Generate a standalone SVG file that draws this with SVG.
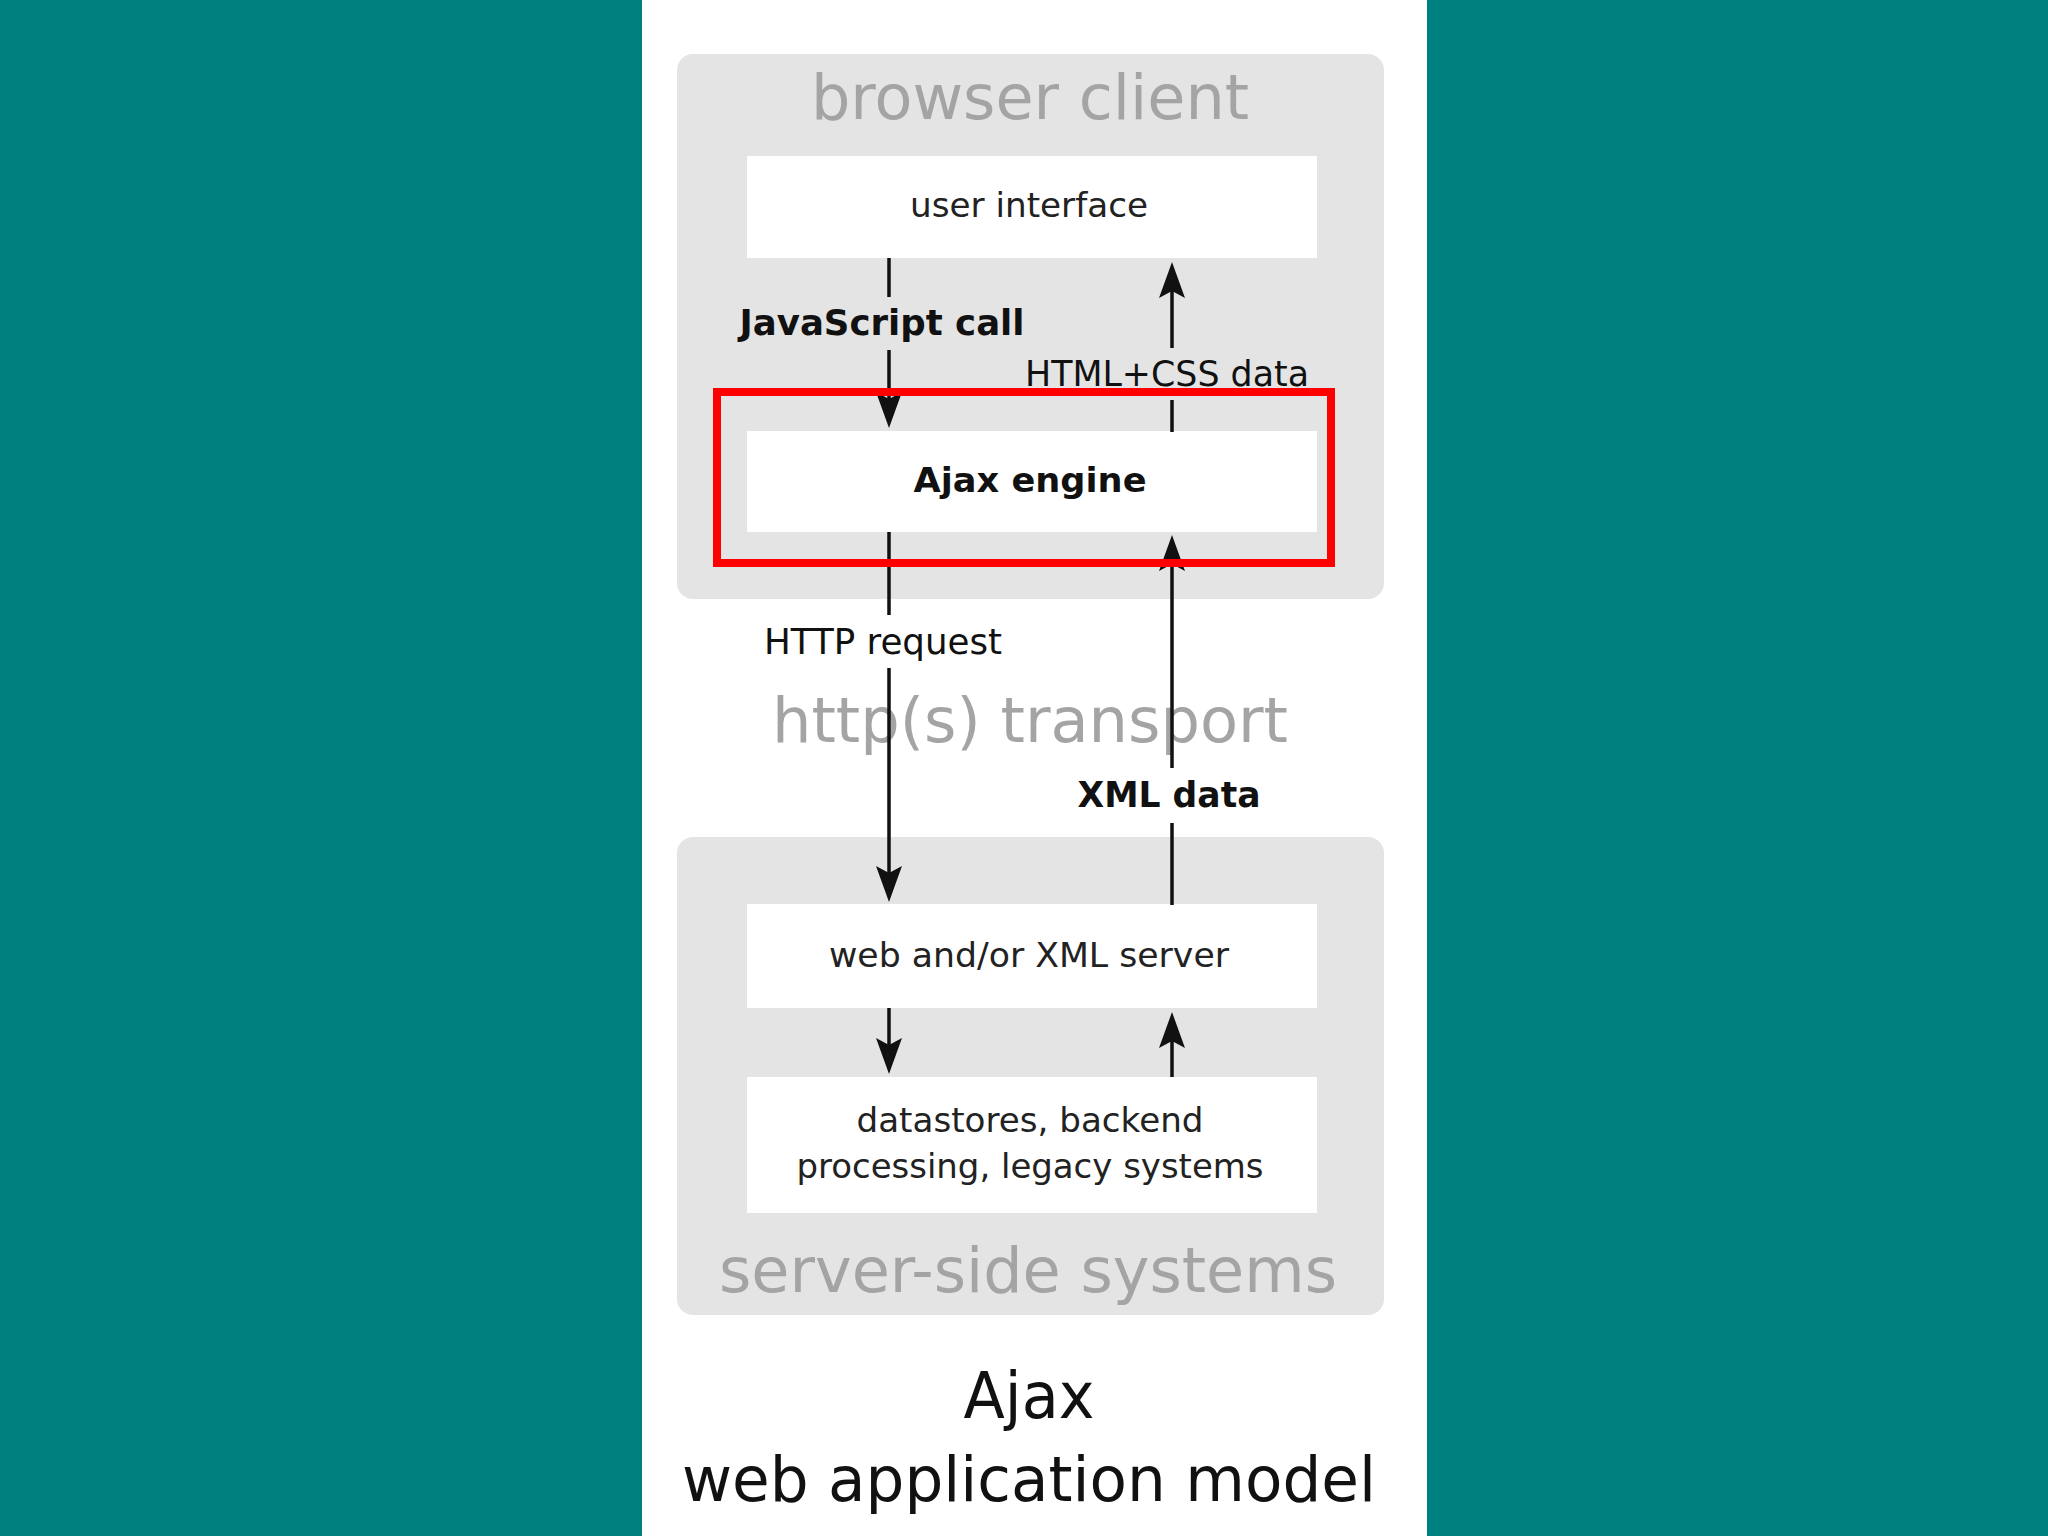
<svg xmlns="http://www.w3.org/2000/svg" width="2048" height="1536" viewBox="0 0 2048 1536">
  <defs>
    <marker id="arrow" markerUnits="userSpaceOnUse" viewBox="0 0 36 26" refX="26" refY="13" markerWidth="36" markerHeight="26" orient="auto">
      <path d="M0,0 L36,13 L0,26 L7,13 Z" fill="#111"/>
    </marker>
    <style>
      .group { fill: #e4e4e4; }
      .box { fill: #ffffff; }
      .grouptitle { font-family: "DejaVu Sans", Verdana, sans-serif; font-size: 62px; fill: #a4a4a4; text-anchor: middle; }
      .boxtext { font-family: "DejaVu Sans", Verdana, sans-serif; font-size: 34px; fill: #222; text-anchor: middle; }
      .bold { font-weight: bold; fill: #111; }
      .label { font-family: "DejaVu Sans", Verdana, sans-serif; font-size: 35px; fill: #111; text-anchor: middle; }
      .title { font-family: "DejaVu Sans", Verdana, sans-serif; fill: #111; text-anchor: middle; }
      .conn { fill: none; stroke: #111; stroke-width: 3.5; marker-end: url(#arrow); }
    </style>
  </defs>

  <rect x="0" y="0" width="2048" height="1536" fill="#00807f"/>
  <rect x="642" y="0" width="785" height="1536" fill="#ffffff"/>

  <g id="browser-client">
    <rect class="group" x="677" y="54" width="707" height="545" rx="16"/>
    <text class="grouptitle" x="1030" y="119" textLength="438" lengthAdjust="spacingAndGlyphs">browser client</text>
  </g>

  <g id="server-side-systems">
    <rect class="group" x="677" y="837" width="707" height="478" rx="16"/>
    <text class="grouptitle" x="1028" y="1292" textLength="618" lengthAdjust="spacingAndGlyphs">server-side systems</text>
  </g>

  <g id="http-transport">
    <text class="grouptitle" x="1030" y="742" textLength="516" lengthAdjust="spacingAndGlyphs">http(s) transport</text>
  </g>

  <g id="user-interface">
    <rect class="box" x="747" y="156" width="570" height="102"/>
    <text class="boxtext" x="1029" y="217" textLength="238" lengthAdjust="spacingAndGlyphs">user interface</text>
  </g>

  <g id="ajax-engine">
    <rect class="box" x="747" y="431" width="570" height="101"/>
    <text class="boxtext bold" x="1030" y="492" font-size="35" textLength="233" lengthAdjust="spacingAndGlyphs">Ajax engine</text>
  </g>

  <g id="web-server">
    <rect class="box" x="747" y="904" width="570" height="104"/>
    <text class="boxtext" x="1029" y="967" textLength="400" lengthAdjust="spacingAndGlyphs">web and/or XML server</text>
  </g>

  <g id="datastores">
    <rect class="box" x="747" y="1077" width="570" height="136"/>
    <text class="boxtext" x="1030" y="1132" textLength="347" lengthAdjust="spacingAndGlyphs">datastores, backend</text>
    <text class="boxtext" x="1030" y="1178" textLength="467" lengthAdjust="spacingAndGlyphs">processing, legacy systems</text>
  </g>

  <g id="connectors">
    <path class="conn" d="M889,258 L889,297 M889,350 L889,418"/>
    <path class="conn" d="M1172,432 L1172,400 M1172,348 L1172,272"/>
    <path class="conn" d="M889,532 L889,615 M889,668 L889,892"/>
    <path class="conn" d="M1172,905 L1172,823 M1172,768 L1172,545"/>
    <path class="conn" d="M889,1008 L889,1064"/>
    <path class="conn" d="M1172,1077 L1172,1022"/>
    <text class="label bold" x="882" y="335" textLength="285" lengthAdjust="spacingAndGlyphs">JavaScript call</text>
    <text class="label" x="1167" y="386" textLength="284" lengthAdjust="spacingAndGlyphs">HTML+CSS data</text>
    <text class="label" x="883" y="654" textLength="238" lengthAdjust="spacingAndGlyphs">HTTP request</text>
    <text class="label bold" x="1169" y="807" textLength="183" lengthAdjust="spacingAndGlyphs">XML data</text>
  </g>

  <g id="caption">
    <text class="title" x="1029" y="1418" font-size="64" textLength="131" lengthAdjust="spacingAndGlyphs">Ajax</text>
    <text class="title" x="1029" y="1501" font-size="62" textLength="694" lengthAdjust="spacingAndGlyphs">web application model</text>
  </g>

  <g id="highlight">
    <rect x="717" y="392" width="614" height="171" fill="none" stroke="#ff0000" stroke-width="8"/>
  </g>
</svg>
